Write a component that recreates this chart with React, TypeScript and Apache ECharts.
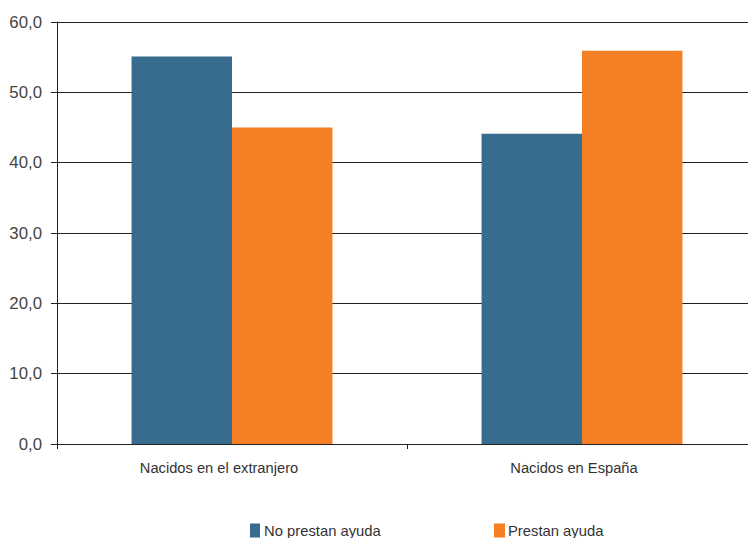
import React, { useEffect, useRef } from "react";
import * as echarts from "echarts";

const categories = ["Nacidos en el extranjero", "Nacidos en España"];
const noPrestan = [55.1, 44.1];
const prestan = [45.0, 55.9];
const seriesNames = ["No prestan ayuda", "Prestan ayuda"];
const yTicks = [0, 10, 20, 30, 40, 50, 60];

const FONT = "'Liberation Sans', Arial, sans-serif";

export default function App() {
  const ref = useRef<HTMLDivElement>(null);
  useEffect(() => {
    document.body.style.margin = "0";
    document.body.style.overflow = "hidden";
    const chart = echarts.init(ref.current!, null, { renderer: "svg" });
    chart.setOption({
      animation: false,
      backgroundColor: "#ffffff",
      textStyle: { fontFamily: FONT },
      grid: { left: 57, right: 0, top: 22, bottom: 103 },
      legend: [
        {
          data: [seriesNames[0]],
          left: 250,
          top: 523,
          itemWidth: 10,
          itemHeight: 14,
          itemGap: 4,
          icon: "rect",
          textStyle: { fontFamily: FONT, fontSize: 14.8, color: "#333", padding: [0, 0, 0, -1] },
          padding: 0,
        },
        {
          data: [seriesNames[1]],
          left: 494,
          top: 523,
          itemWidth: 11,
          itemHeight: 14,
          icon: "rect",
          textStyle: { fontFamily: FONT, fontSize: 14.8, color: "#333", padding: [0, 0, 0, -2] },
          padding: 0,
        },
      ],
      xAxis: {
        type: "category",
        data: categories,
        axisLine: { lineStyle: { color: "#222", width: 1 } },
        axisTick: { show: true, length: 5, lineStyle: { color: "#222" } },
        axisLabel: {
          fontFamily: FONT,
          fontSize: 14.7,
          color: "#333",
          margin: 16,
          formatter: (v: string, i: number) => `{${i === 0 ? "a" : "b"}|${v}}`,
          rich: {
            a: { fontFamily: FONT, fontSize: 14.7, color: "#333", padding: [0, 26, 0, 0] },
            b: { fontFamily: FONT, fontSize: 14.7, color: "#333", padding: [0, 16, 0, 0] },
          },
        },
      },
      yAxis: {
        type: "value",
        min: yTicks[0],
        max: yTicks[yTicks.length - 1],
        interval: yTicks[1] - yTicks[0],
        axisLine: { show: true, lineStyle: { color: "#222", width: 1 } },
        axisTick: { show: true, length: 6, lineStyle: { color: "#222" } },
        splitLine: { lineStyle: { color: "#222", width: 1 } },
        axisLabel: {
          fontFamily: FONT,
          fontSize: 16.8,
          color: "#444",
          margin: 15,
          formatter: (v: number) => v.toFixed(1).replace(".", ","),
        },
      },
      series: [
        {
          name: seriesNames[0],
          type: "bar",
          data: noPrestan,
          itemStyle: { color: "#376C8E" },
          barGap: "0%",
          barCategoryGap: "42.6%",
        },
        {
          name: seriesNames[1],
          type: "bar",
          data: prestan,
          itemStyle: { color: "#F47F24" },
          barGap: "0%",
          barCategoryGap: "42.6%",
        },
      ],
    });
    return () => chart.dispose();
  }, []);
  return (
    <div style={{ position: "absolute", left: 0, top: 0, width: 748, height: 538, overflow: "hidden" }}>
      <div ref={ref} style={{ position: "absolute", left: 0, top: 0, width: 757, height: 547 }} />
    </div>
  );
}
